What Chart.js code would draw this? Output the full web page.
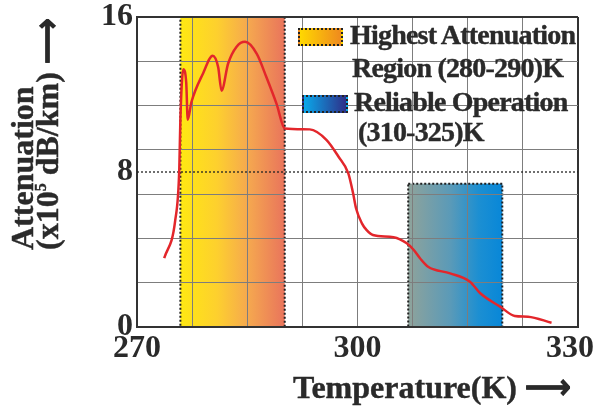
<!DOCTYPE html>
<html>
<head>
<meta charset="utf-8">
<script src="https://cdn.jsdelivr.net/npm/chart.js@4.4.1/dist/chart.umd.min.js"></script>
<style>
  html, body { margin: 0; padding: 0; background: #fff; }
  #wrap { position: relative; width: 599px; height: 409px; overflow: hidden; }
  #wrap canvas { position: absolute; left: 0; top: 0; }
  .txt {
    position: absolute;
    font-family: "Liberation Serif", "Times New Roman", serif;
    font-weight: bold;
    color: #2a2a2a;
    -webkit-text-stroke: 0.4px #2a2a2a;
    white-space: nowrap;
  }
  .leg { font-size: 28px; line-height: 28px; letter-spacing: -0.8px; }
  .sw { position: absolute; border: 2px dotted #222; box-sizing: border-box; }
  #ytitle {
    left: 10px; top: 250px;
    font-size: 32px; line-height: 25px;
    transform-origin: 0 0;
    transform: rotate(-90deg);
  }
  #xtitle { left: 293px; top: 371px; font-size: 32px; line-height: 32px; }
</style>
</head>
<body>
<div id="wrap">
  <canvas id="grafico" width="599" height="409"></canvas>

  <div class="sw" style="left:298px;top:28px;width:45px;height:18px;background:linear-gradient(90deg,#ffd800,#ef8a1e);"></div>
  <div class="txt leg" style="left:350px;top:21px;">Highest Attenuation</div>
  <div class="txt leg" style="left:352px;top:54px;">Region (280-290)K</div>
  <div class="sw" style="left:302px;top:95px;width:46px;height:18px;background:linear-gradient(90deg,#0aa8ea,#2e2f88);"></div>
  <div class="txt leg" style="left:354px;top:88px;">Reliable Operation</div>
  <div class="txt leg" style="left:358px;top:118px;">(310-325)K</div>

  <div id="ytitle" class="txt">Attenuation<br>(x10<span style="font-size:16px;position:relative;top:-12px;">5</span> dB/km) ⟶</div>
  <div id="xtitle" class="txt">Temperature(K) ⟶</div>
</div>

<script>
// curva (K, x10^5 dB/km)
const temperaturas = [273.7, 275.2, 275.75, 275.9, 276.3, 276.7, 276.9, 277.4, 279.0, 280.3,
  281.05, 281.5, 282.4, 283.55, 284.7, 286.3, 287.6, 289.0, 290.1, 293.5,
  295.8, 297.4, 298.75, 299.4, 299.8, 300.6, 301.25, 302.1, 304.9, 306.7,
  307.6, 308.5, 309.6, 312.6, 315.3, 316.7, 319.4, 321.4, 323.2, 326.4];
const atenuacao = [3.55, 5.5, 8.1, 10.7, 13.3, 12.6, 10.7, 11.6, 13.1, 14.0,
  13.4, 12.2, 13.6, 14.47, 14.72, 14.1, 12.9, 11.5, 10.25, 10.2,
  9.65, 8.8, 7.93, 6.9, 6.13, 5.35, 5.0, 4.75, 4.63, 4.32,
  4.0, 3.55, 3.11, 2.77, 2.34, 1.74, 1.05, 0.57, 0.53, 0.22];

// faixas sombreadas [inicio, fim] em K e altura em x10^5 dB/km
const faixaAlta = [275.9, 290.1];
const faixaAltaTopo = 16;
const faixaConfiavel = [306.9, 319.7];
const faixaConfiavelTopo = 7.4;

const linhaReferencia = 8;

const xTickLabels = [270, 300, 330];
const yTickLabels = [0, 8, 16];
const yDivisoes = 7;

const SERIF = "'Liberation Serif', 'Times New Roman', serif";
const FRAME = "#333";
const GRID = "#7d7d7d";

const faixasPlugin = {
  id: "faixasPlugin",
  beforeDraw(chart) {
    const { ctx, scales } = chart;
    const x = scales.x;
    const y = scales.y;

    function caixa(faixa, topo, stops) {
      const x0 = x.getPixelForValue(faixa[0]);
      const x1 = x.getPixelForValue(faixa[1]);
      const y0 = y.getPixelForValue(topo);
      const y1 = y.getPixelForValue(0);
      const grad = ctx.createLinearGradient(x0, 0, x1, 0);
      stops.forEach(([p, c]) => grad.addColorStop(p, c));
      ctx.fillStyle = grad;
      ctx.fillRect(x0, y0, x1 - x0, y1 - y0);
      ctx.setLineDash([2, 2]);
      ctx.lineWidth = 2;
      ctx.strokeStyle = "#222";
      ctx.strokeRect(x0, y0, x1 - x0, y1 - y0);
      ctx.setLineDash([]);
    }

    ctx.save();
    caixa(faixaAlta, faixaAltaTopo, [[0, "#ffe812"], [0.35, "#fdd02e"], [0.65, "#f5a84f"], [1, "#e9745c"]]);
    caixa(faixaConfiavel, faixaConfiavelTopo, [[0, "#8fa39b"], [0.45, "#5a9ab8"], [0.75, "#1c8fd2"], [1, "#0887d8"]]);
    ctx.restore();
  }
};

const xMin = xTickLabels[0];
const xMax = xTickLabels[xTickLabels.length - 1];
const yMin = yTickLabels[0];
const yMax = yTickLabels[yTickLabels.length - 1];

new Chart(document.getElementById("grafico"), {
  type: "line",
  data: {
    datasets: [
      {
        label: "Atenuação",
        data: temperaturas.map((t, i) => ({ x: t, y: atenuacao[i] })),
        borderColor: "#e3262b",
        borderWidth: 2.5,
        pointRadius: 0,
        cubicInterpolationMode: "monotone",
        order: 1
      },
      {
        label: "ref",
        data: [{ x: xMin, y: linhaReferencia }, { x: xMax, y: linhaReferencia }],
        borderColor: "#222",
        borderWidth: 1.3,
        borderDash: [2, 2],
        pointRadius: 0,
        order: 2
      }
    ]
  },
  options: {
    responsive: false,
    animation: false,
    layout: { padding: { left: 0, top: 17, right: 21, bottom: 0 } },
    plugins: {
      legend: { display: false },
      tooltip: { enabled: false }
    },
    scales: {
      x: {
        type: "linear",
        min: xMin,
        max: xMax,
        afterFit(scale) {
          scale.height = 82;
          scale.paddingLeft = 0;
          scale.paddingRight = 0;
        },
        ticks: {
          stepSize: 7.5,
          autoSkip: false,
          maxRotation: 0,
          padding: 3,
          color: "#2a2a2a",
          font: { family: SERIF, size: 32, weight: "bold" },
          callback: (v) => {
            if (!xTickLabels.includes(v)) return "";
            return v === xMax ? v + "\u2002" : String(v);
          }
        },
        grid: {
          drawTicks: false,
          color: (c) => (c.tick && c.tick.value === xMax ? FRAME : GRID),
          lineWidth: (c) => (c.tick && c.tick.value === xMax ? 2 : 1)
        },
        border: { color: FRAME, width: 2 }
      },
      y: {
        min: yMin,
        max: yMax,
        afterBuildTicks(scale) {
          const vals = [];
          for (let i = 0; i <= yDivisoes; i++) vals.push((i * yMax) / yDivisoes);
          vals.push(linhaReferencia);
          vals.sort((a, b) => a - b);
          scale.ticks = vals.map((v) => ({ value: v }));
        },
        afterFit(scale) {
          scale.width = 137;
          scale.paddingTop = 0;
          scale.paddingBottom = 0;
        },
        ticks: {
          autoSkip: false,
          padding: 4,
          color: "#2a2a2a",
          font: { family: SERIF, size: 32, weight: "bold" },
          callback: (v) => (yTickLabels.some((l) => Math.abs(l - v) < 1e-6) ? String(v) : "")
        },
        grid: {
          drawTicks: false,
          color: (c) => {
            if (!c.tick) return GRID;
            if (Math.abs(c.tick.value - linhaReferencia) < 1e-6) return "rgba(0,0,0,0)";
            if (Math.abs(c.tick.value - yMax) < 1e-6) return FRAME;
            return GRID;
          },
          lineWidth: (c) => (c.tick && Math.abs(c.tick.value - yMax) < 1e-6 ? 2 : 1)
        },
        border: { color: FRAME, width: 2 }
      }
    }
  },
  plugins: [faixasPlugin]
});
</script>
</body>
</html>
